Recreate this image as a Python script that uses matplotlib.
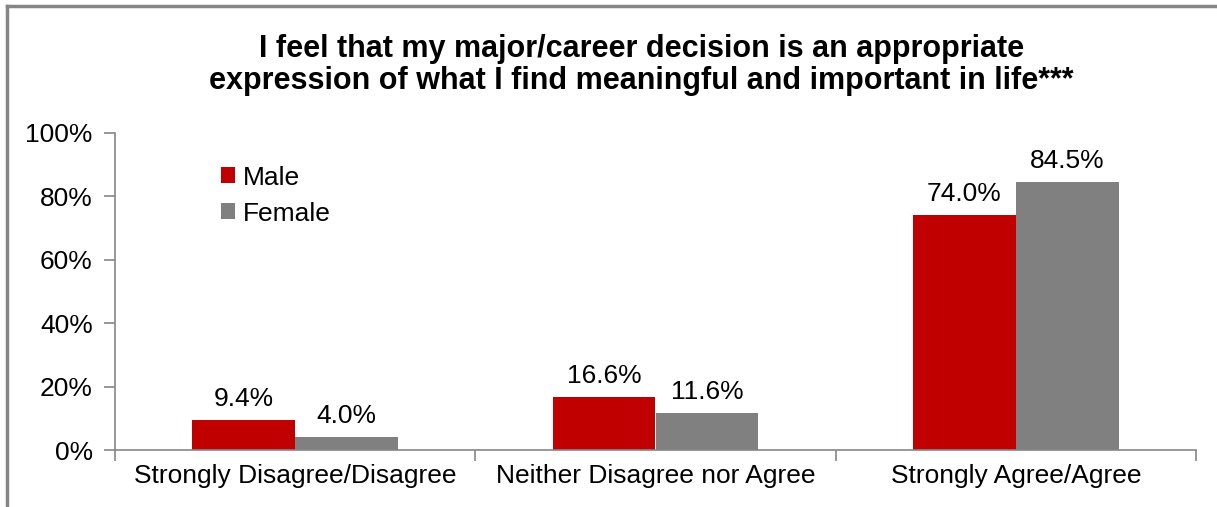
import matplotlib.pyplot as plt
import numpy as np
from matplotlib.lines import Line2D

# Chart data
categories = ["Strongly Disagree/Disagree", "Neither Disagree nor Agree", "Strongly Agree/Agree"]
male_values = [9.4, 16.6, 74.0]
female_values = [4.0, 11.6, 84.5]
y_ticks = [0, 20, 40, 60, 80, 100]

plt.rcParams['font.family'] = ['Liberation Sans', 'DejaVu Sans']

RED = "#C00000"
GRAY = "#808080"
AXIS = "#868686"
FS = 19

fig = plt.figure(figsize=(12.17, 5.07), dpi=100)
ax = fig.add_axes([115 / 1217, 1 - 450 / 507, (1196 - 115) / 1217, (450 - 133) / 507])

x = np.arange(len(categories))
width = 0.285
bars_m = ax.bar(x - width / 2, male_values, width, color=RED, label="Male")
bars_f = ax.bar(x + width / 2, female_values, width, color=GRAY, label="Female")

for bars, vals in [(bars_m, male_values), (bars_f, female_values)]:
    for b, v in zip(bars, vals):
        ax.text(b.get_x() + b.get_width() / 2, v + 3, f"{v:.1f}%",
                ha="center", va="bottom", fontsize=FS)

ax.set_xlim(-0.5, len(categories) - 0.5)
ax.set_ylim(0, 100)
ax.set_yticks(y_ticks)
ax.set_yticklabels([f"{t}%" for t in y_ticks], fontsize=FS)

# category labels centered, tick marks between categories
ax.set_xticks(np.arange(-0.5, len(categories), 1.0))
ax.set_xticklabels([])
ax.set_xticks(x, minor=True)
ax.set_xticklabels(categories, minor=True, fontsize=FS)
ax.tick_params(axis="x", which="minor", length=0, pad=10)
ax.tick_params(axis="x", which="major", length=8, color=AXIS, width=1.2)
ax.tick_params(axis="y", length=8, color=AXIS, width=1.2, pad=8)

for s in ["top", "right"]:
    ax.spines[s].set_visible(False)
for s in ["left", "bottom"]:
    ax.spines[s].set_color(AXIS)
    ax.spines[s].set_linewidth(1.2)

ax.legend(loc="upper left", bbox_to_anchor=(0.088, 0.93), frameon=False, fontsize=FS,
          handlelength=0.55, handleheight=0.55, handletextpad=0.3, labelspacing=0.45,
          borderaxespad=0)

fig.text(0.527, 0.872, "I feel that my major/career decision is an appropriate\n"
         "expression of what I find meaningful and important in life***",
         ha="center", va="center", fontsize=22, fontweight="bold", linespacing=1.1)

# outer border (left and top only visible)
fig.add_artist(Line2D([7 / 1217, 7 / 1217], [0, 1 - 6 / 507], transform=fig.transFigure,
                      color=AXIS, linewidth=2.5))
fig.add_artist(Line2D([7 / 1217, 1], [1 - 6 / 507, 1 - 6 / 507], transform=fig.transFigure,
                      color=AXIS, linewidth=2.5))

plt.savefig("out.png", dpi=100)
